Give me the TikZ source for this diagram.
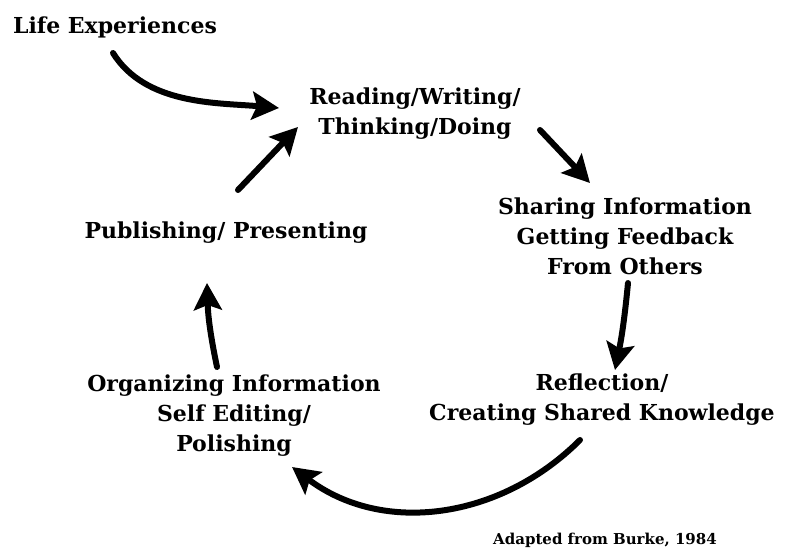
\documentclass[tikz,border=0pt]{standalone}
\usepackage{fontspec}
\setmainfont{DejaVu Serif}
\usepackage{tikz}
\usetikzlibrary{arrows.meta}
\tikzset{
  stage/.style={font=\bfseries\fontsize{22}{30}\selectfont,align=center,inner sep=2pt},
  flow/.style={line width=6pt,line cap=round,black,-{Stealth[length=27pt,width=28pt,inset=5pt]}}
}
\begin{document}
\begin{tikzpicture}[x=1pt,y=1pt]
\useasboundingbox (0,0) rectangle (788,549);
\node[stage] (life) at (115,522) {Life Experiences};
\node[stage] (read) at (415,435) {Reading/Writing/\\Thinking/Doing};
\node[stage] (share) at (625,313) {Sharing Information\\Getting Feedback\\From Others};
\node[stage] (reflect) at (602,149) {Reflection/\\Creating Shared Knowledge};
\node[stage] (organize) at (234,133) {Organizing Information\\Self Editing/\\Polishing};
\node[stage] (publish) at (226,316) {Publishing/ Presenting};
\node[font=\bfseries\fontsize{15}{17}\selectfont] (adapt) at (605,9) {Adapted from Burke, 1984};
\draw[flow] ([shift={(-2,-26)}]life.center) to[out=-58,in=175,looseness=0.9] ([shift={(-136,6)}]read.center);
\draw[flow] ([shift={(12,43)}]publish.center) -- ([shift={(-117,-13)}]read.center);
\draw[flow] ([shift={(125,-16)}]read.center) -- ([shift={(-35,53)}]share.center);
\draw[flow] ([shift={(3,-47)}]share.center) to[bend left=3] ([shift={(13,30)}]reflect.center);
\draw[flow] ([shift={(-22,-40)}]reflect.center) to[out=-135,in=-37] ([shift={(58,-51)}]organize.center);
\draw[flow] ([shift={(-17,49)}]organize.center) to[bend left=5] ([shift={(-19,-50)}]publish.center);
\end{tikzpicture}
\end{document}
